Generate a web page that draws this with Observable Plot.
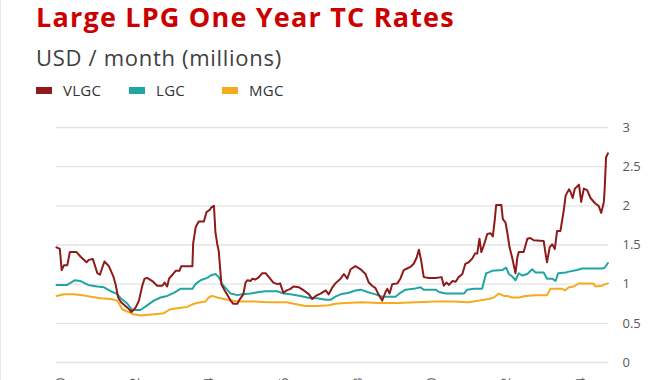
<!DOCTYPE html>
<html>
<head>
<meta charset="utf-8">
<script src="https://cdn.jsdelivr.net/npm/d3@7"></script>
<script src="https://cdn.jsdelivr.net/npm/@observablehq/plot@0.6"></script>
<style>
  html, body { margin: 0; padding: 0; background: #fff; overflow: hidden; }
  #wrap { position: relative; width: 670px; height: 380px; overflow: hidden; font-family: "Open Sans", sans-serif; border-left: 1px solid #e6e6e6; box-sizing: border-box; }
  #title { position: absolute; left: 35px; top: 3px; font-size: 27px; line-height: 27px; letter-spacing: 1.2px; font-weight: 700; color: #cc0000; white-space: nowrap; }
  #subtitle { position: absolute; left: 35px; top: 46px; font-size: 22px; line-height: 22px; letter-spacing: 0.7px; color: #404040; white-space: nowrap; }
  #legend { position: absolute; left: 35px; top: 83px; display: flex; }
  .item { width: 93px; display: flex; align-items: center; font-size: 15px; line-height: 15px; letter-spacing: 0.3px; color: #333; }
  .sw { width: 16px; height: 7px; margin-right: 11px; }
  #chart { position: absolute; left: -1px; top: 100px; }
</style>
</head>
<body>
<div id="wrap">
  <div id="title">Large LPG One Year TC Rates</div>
  <div id="subtitle">USD / month (millions)</div>
  <div id="legend"></div>
  <div id="chart"></div>
</div>
<script>
// Series names and colours
const seriesNames = ["VLGC", "LGC", "MGC"];
const seriesColors = ["#8e1a1a", "#1fa6a2", "#f5ab1c"];

// Axis ticks
const yTicks = [0, 0.5, 1, 1.5, 2, 2.5, 3];
const xTicks = [2000, 2002, 2004, 2006, 2008, 2010, 2012, 2014];

// [year, USD millions / month]
const vlgc = [
  [1999.89,1.47],[1999.98,1.45],[2000.03,1.18],[2000.09,1.24],[2000.18,1.24],[2000.25,1.41],[2000.43,1.41],
  [2000.54,1.35],[2000.70,1.28],[2000.76,1.31],[2000.87,1.32],[2000.99,1.14],[2001.06,1.12],[2001.18,1.29],
  [2001.30,1.23],[2001.42,1.10],[2001.48,1.00],[2001.55,0.83],[2001.63,0.77],[2001.80,0.70],[2001.91,0.645],
  [2002.02,0.70],[2002.11,0.79],[2002.20,0.98],[2002.26,1.07],[2002.33,1.08],[2002.47,1.04],[2002.60,0.98],
  [2002.74,0.98],[2002.80,1.02],[2002.87,0.97],[2002.92,1.07],[2003.03,1.13],[2003.10,1.17],[2003.20,1.17],
  [2003.25,1.23],[2003.55,1.23],[2003.57,1.52],[2003.64,1.73],[2003.72,1.80],[2003.86,1.80],[2003.93,1.92],
  [2004.02,1.95],[2004.06,1.98],[2004.13,2.00],[2004.17,1.66],[2004.22,1.51],[2004.26,1.42],[2004.33,1.00],
  [2004.42,0.92],[2004.58,0.79],[2004.65,0.75],[2004.76,0.75],[2004.83,0.81],[2004.92,0.87],[2004.98,1.02],
  [2005.03,1.05],[2005.12,1.04],[2005.16,1.07],[2005.25,1.06],[2005.34,1.09],[2005.43,1.14],[2005.52,1.14],
  [2005.61,1.09],[2005.73,1.02],[2005.84,1.00],[2005.91,1.01],[2006.00,0.89],[2006.09,0.92],[2006.19,0.94],
  [2006.27,0.97],[2006.42,0.96],[2006.55,0.92],[2006.69,0.87],[2006.78,0.81],[2006.87,0.85],[2007.00,0.88],
  [2007.14,0.92],[2007.22,0.87],[2007.32,0.96],[2007.40,1.01],[2007.54,1.07],[2007.63,1.13],[2007.72,1.07],
  [2007.81,1.19],[2007.94,1.23],[2008.08,1.19],[2008.21,1.13],[2008.30,1.02],[2008.39,0.98],[2008.48,0.95],
  [2008.55,0.88],[2008.66,0.79],[2008.75,0.90],[2008.80,0.94],[2008.86,0.88],[2008.93,1.00],[2009.07,1.01],
  [2009.15,1.07],[2009.24,1.18],[2009.33,1.20],[2009.42,1.22],[2009.51,1.26],[2009.59,1.34],[2009.65,1.44],
  [2009.71,1.30],[2009.78,1.09],[2009.92,1.08],[2010.10,1.08],[2010.26,1.09],[2010.32,0.98],[2010.39,1.02],
  [2010.46,0.99],[2010.55,1.04],[2010.64,1.03],[2010.72,1.09],[2010.82,1.13],[2010.90,1.26],[2010.99,1.28],
  [2011.09,1.33],[2011.16,1.39],[2011.22,1.39],[2011.28,1.58],[2011.33,1.41],[2011.40,1.50],[2011.49,1.64],
  [2011.58,1.65],[2011.64,1.61],[2011.69,1.81],[2011.73,2.01],[2011.87,2.01],[2011.91,1.83],[2011.98,1.79],
  [2012.04,1.63],[2012.09,1.47],[2012.16,1.34],[2012.25,1.14],[2012.30,1.34],[2012.34,1.41],[2012.47,1.41],
  [2012.57,1.58],[2012.65,1.59],[2012.74,1.56],[2013.01,1.55],[2013.06,1.39],[2013.10,1.28],[2013.17,1.47],
  [2013.24,1.51],[2013.31,1.45],[2013.37,1.68],[2013.46,1.68],[2013.55,1.94],[2013.60,2.13],[2013.69,2.21],
  [2013.73,2.18],[2013.79,2.10],[2013.85,2.22],[2013.96,2.27],[2014.02,2.05],[2014.09,2.22],[2014.18,2.20],
  [2014.27,2.10],[2014.40,2.03],[2014.49,2.00],[2014.56,1.91],[2014.63,2.05],[2014.65,2.20],[2014.69,2.62],
  [2014.74,2.67]
];

const lgc = [
  [1999.89,0.99],[2000.18,0.99],[2000.38,1.05],[2000.54,1.04],[2000.74,0.99],[2000.99,0.97],[2001.17,0.96],
  [2001.35,0.91],[2001.51,0.88],[2001.62,0.82],[2001.80,0.75],[2001.93,0.67],[2002.15,0.67],[2002.33,0.73],
  [2002.51,0.79],[2002.69,0.83],[2002.87,0.85],[2003.05,0.89],[2003.23,0.94],[2003.55,0.94],[2003.63,1.00],
  [2003.77,1.05],[2003.95,1.08],[2004.04,1.11],[2004.17,1.13],[2004.26,1.09],[2004.35,1.00],[2004.58,0.88],
  [2004.76,0.86],[2004.89,0.87],[2005.12,0.88],[2005.34,0.90],[2005.52,0.91],[2005.84,0.91],[2006.01,0.88],
  [2006.19,0.87],[2006.46,0.85],[2006.73,0.82],[2006.91,0.82],[2007.14,0.80],[2007.27,0.80],[2007.40,0.84],
  [2007.54,0.87],[2007.76,0.89],[2007.94,0.92],[2008.08,0.93],[2008.26,0.90],[2008.48,0.87],[2008.66,0.84],
  [2009.02,0.84],[2009.15,0.89],[2009.29,0.93],[2009.51,0.94],[2009.69,0.96],[2009.78,0.93],[2010.10,0.93],
  [2010.19,0.90],[2010.37,0.88],[2010.86,0.88],[2010.95,0.93],[2011.13,0.94],[2011.35,0.94],[2011.46,1.14],
  [2011.53,1.15],[2011.62,1.17],[2011.89,1.18],[2012.00,1.21],[2012.07,1.13],[2012.16,1.10],[2012.25,1.05],
  [2012.34,1.14],[2012.43,1.11],[2012.57,1.13],[2012.70,1.19],[2012.79,1.15],[2013.01,1.15],[2013.10,1.07],
  [2013.24,1.07],[2013.33,1.04],[2013.40,1.14],[2013.60,1.15],[2013.69,1.16],[2013.91,1.18],[2014.05,1.20],
  [2014.58,1.20],[2014.65,1.21],[2014.74,1.27]
];

const mgc = [
  [1999.89,0.85],[2000.09,0.87],[2000.36,0.87],[2000.58,0.86],[2000.81,0.84],[2001.08,0.82],[2001.35,0.81],
  [2001.53,0.79],[2001.66,0.68],[2001.80,0.65],[2001.93,0.62],[2002.15,0.60],[2002.38,0.61],[2002.60,0.62],
  [2002.78,0.63],[2002.96,0.68],[2003.23,0.70],[2003.41,0.71],[2003.59,0.75],[2003.77,0.77],[2003.90,0.78],
  [2003.99,0.83],[2004.08,0.85],[2004.22,0.83],[2004.40,0.81],[2004.58,0.79],[2004.85,0.78],[2005.20,0.78],
  [2005.57,0.77],[2006.10,0.77],[2006.28,0.75],[2006.60,0.72],[2006.91,0.72],[2007.22,0.73],[2007.40,0.75],
  [2007.67,0.76],[2008.12,0.77],[2008.57,0.76],[2009.11,0.76],[2009.56,0.77],[2010.10,0.78],[2010.55,0.78],
  [2010.99,0.77],[2011.26,0.79],[2011.53,0.81],[2011.67,0.83],[2011.80,0.88],[2011.94,0.85],[2012.03,0.85],
  [2012.16,0.83],[2012.34,0.83],[2012.52,0.85],[2012.79,0.86],[2013.10,0.86],[2013.19,0.94],[2013.51,0.94],
  [2013.58,0.92],[2013.69,0.96],[2013.82,0.97],[2013.96,1.01],[2014.35,1.01],[2014.40,0.97],[2014.58,0.98],
  [2014.67,1.00],[2014.74,1.01]
];

// Legend
const legend = document.getElementById("legend");
seriesNames.forEach((name, i) => {
  const item = document.createElement("div");
  item.className = "item";
  const sw = document.createElement("div");
  sw.className = "sw";
  sw.style.background = seriesColors[i];
  const label = document.createElement("span");
  label.textContent = name;
  item.append(sw, label);
  legend.append(item);
});

const toRows = (name, arr) => arr.map(([t, v]) => ({series: name, t, v}));
const dataBySeries = {VLGC: toRows("VLGC", vlgc), LGC: toRows("LGC", lgc), MGC: toRows("MGC", mgc)};

const chart = Plot.plot({
  width: 670,
  height: 310,
  marginTop: 27,
  marginLeft: 56,
  marginRight: 62,
  marginBottom: 48,
  style: {fontFamily: "'Open Sans', sans-serif", background: "transparent", overflow: "visible"},
  x: {domain: [1999.89, 2014.755]},
  y: {domain: [0, 3]},
  color: {domain: seriesNames, range: seriesColors},
  marks: [
    Plot.gridY(yTicks, {stroke: "#e3e3e3", strokeOpacity: 1, strokeWidth: 1.3}),
    Plot.axisY(yTicks, {anchor: "right", tickSize: 0, tickPadding: 14, textAnchor: "start",
      tickFormat: d => String(d), fontSize: 13, fill: "#595959", label: null}),
    Plot.axisX(xTicks, {tickSize: 0, tickPadding: 15, tickRotate: -90,
      tickFormat: d => String(d), fontSize: 13, fill: "#595959", label: null}),
    Plot.line(dataBySeries.MGC, {x: "t", y: "v", stroke: "series", strokeWidth: 2}),
    Plot.line(dataBySeries.LGC, {x: "t", y: "v", stroke: "series", strokeWidth: 2}),
    Plot.line(dataBySeries.VLGC, {x: "t", y: "v", stroke: "series", strokeWidth: 2})
  ]
});
document.getElementById("chart").append(chart);
</script>
</body>
</html>
